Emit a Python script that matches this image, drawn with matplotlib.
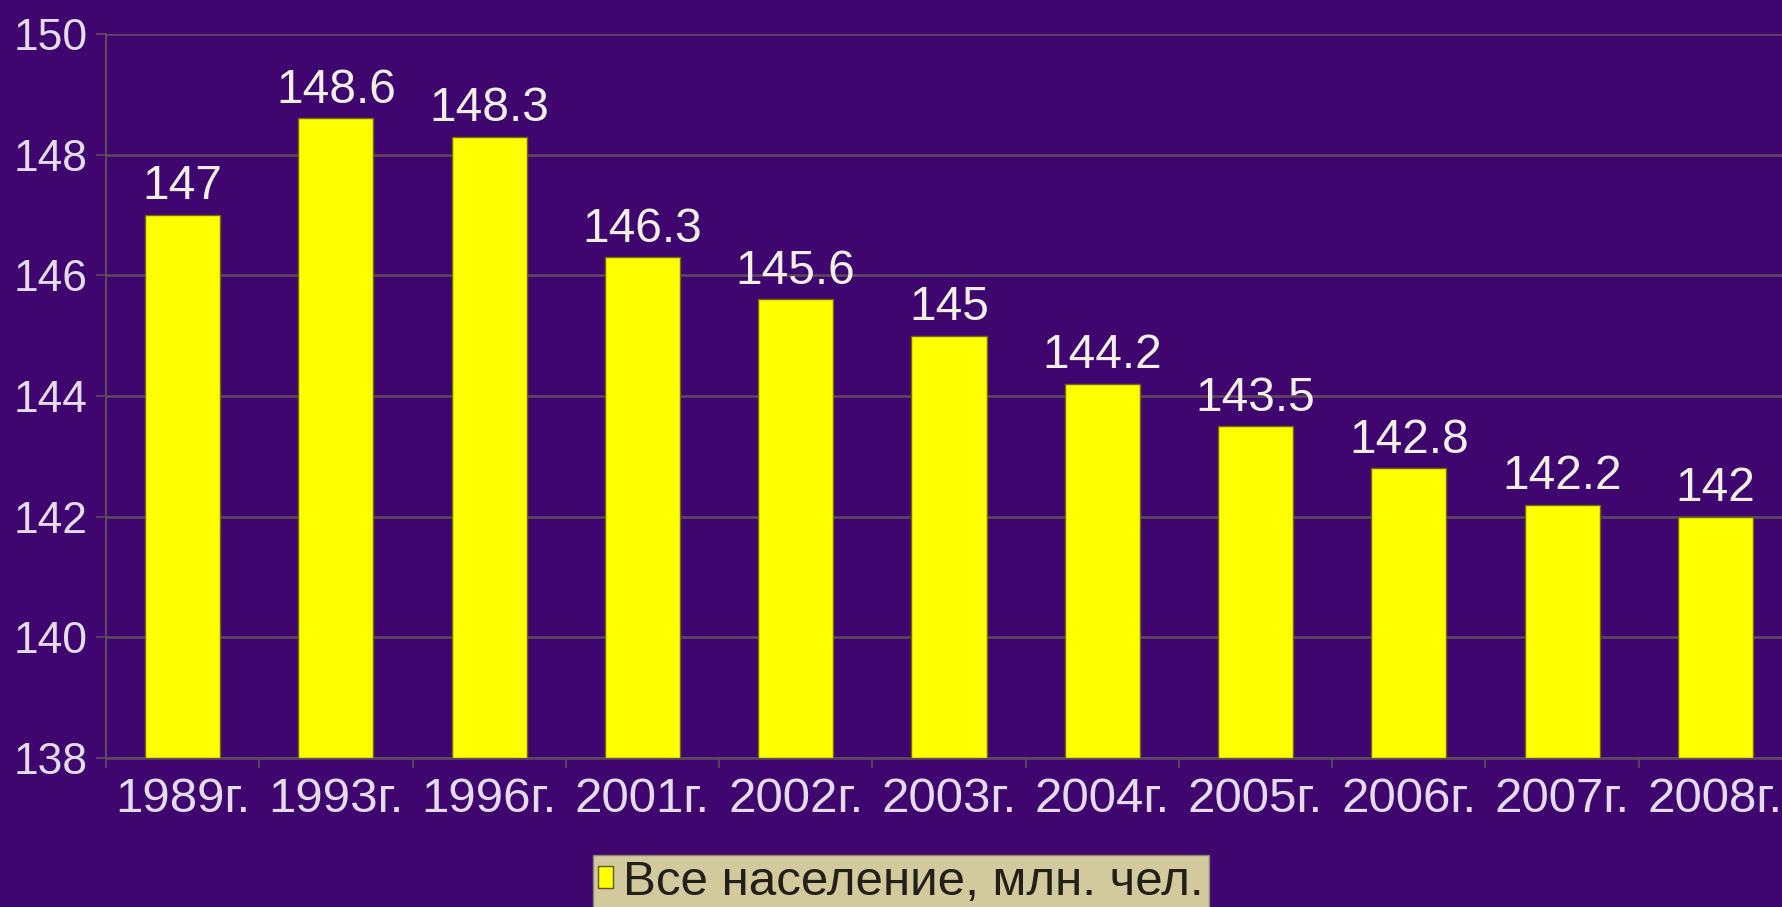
import matplotlib
matplotlib.use("Agg")
import matplotlib.pyplot as plt
from matplotlib.patches import Patch
import numpy as np

categories = ["1989г.", "1993г.", "1996г.", "2001г.", "2002г.", "2003г.",
              "2004г.", "2005г.", "2006г.", "2007г.", "2008г."]
values = [147, 148.6, 148.3, 146.3, 145.6, 145, 144.2, 143.5, 142.8, 142.2, 142]
value_labels = ["147", "148.6", "148.3", "146.3", "145.6", "145", "144.2",
                "143.5", "142.8", "142.2", "142"]
yticks = [138, 140, 142, 144, 146, 148, 150]
series_name = "Все население, млн. чел."

plt.rcParams['font.family'] = ['Liberation Sans', 'DejaVu Sans']

BG = '#3e066e'
GRID = '#5e4a5c'
TXT = '#e4dcec'

fig = plt.figure(figsize=(17.83, 9.07), dpi=100, facecolor=BG)
ax = fig.add_axes([106/1783, 1-758/907, (1792-106)/1783, (758-34)/907])
ax.set_facecolor(BG)

x = np.arange(len(categories))
ax.bar(x, [v - 138 for v in values], bottom=138, width=0.49,
       color='#ffff00', edgecolor='#6f6a10', linewidth=1.0, zorder=3)

for xi, v, lab in zip(x, values, value_labels):
    ax.annotate(lab, (xi, v), xytext=(0, 4), textcoords='offset points',
                ha='center', va='bottom', fontsize=34.5, color='#f2efe6', zorder=4)

ax.set_xlim(-0.5, len(categories) - 0.5)
ax.set_ylim(138, 150)
ax.set_yticks(yticks)
ax.set_yticklabels([str(t) for t in yticks])
ax.set_xticks(x)
ax.set_xticklabels(categories)
ax.set_xticks(np.arange(-0.5, len(categories) + 0.5, 1.0), minor=True)

ax.tick_params(axis='x', which='major', length=0, pad=14, labelsize=35.5, labelcolor=TXT)
ax.tick_params(axis='x', which='minor', length=7, width=1.2, color=GRID, direction='out')
ax.tick_params(axis='y', which='major', length=7, width=1.2, color=GRID, pad=6,
               labelsize=32, labelcolor=TXT)

ax.yaxis.grid(True, color=GRID, linewidth=1.8, zorder=0)
ax.set_axisbelow(True)
for s in ['top', 'right']:
    ax.spines[s].set_visible(False)
ax.spines['left'].set_color(GRID)
ax.spines['left'].set_linewidth(1.5)
ax.spines['bottom'].set_color(GRID)
ax.spines['bottom'].set_linewidth(1.8)

handle = Patch(facecolor='#ffff00', edgecolor='#5a5a20', linewidth=1)
leg = fig.legend([handle], [series_name], loc='upper center',
                 bbox_to_anchor=(901/1783, 1-855/907), borderaxespad=0,
                 frameon=True, fontsize=35.5, handlelength=0.3, handleheight=0.3,
                 handletextpad=0.2, borderpad=0.1, fancybox=False)
leg.get_frame().set_facecolor('#d2c99c')
leg.get_frame().set_edgecolor('#8a8468')
leg.get_frame().set_alpha(1)
for t in leg.get_texts():
    t.set_color('#222018')

fig.savefig('out.png', dpi=100, facecolor=BG)
